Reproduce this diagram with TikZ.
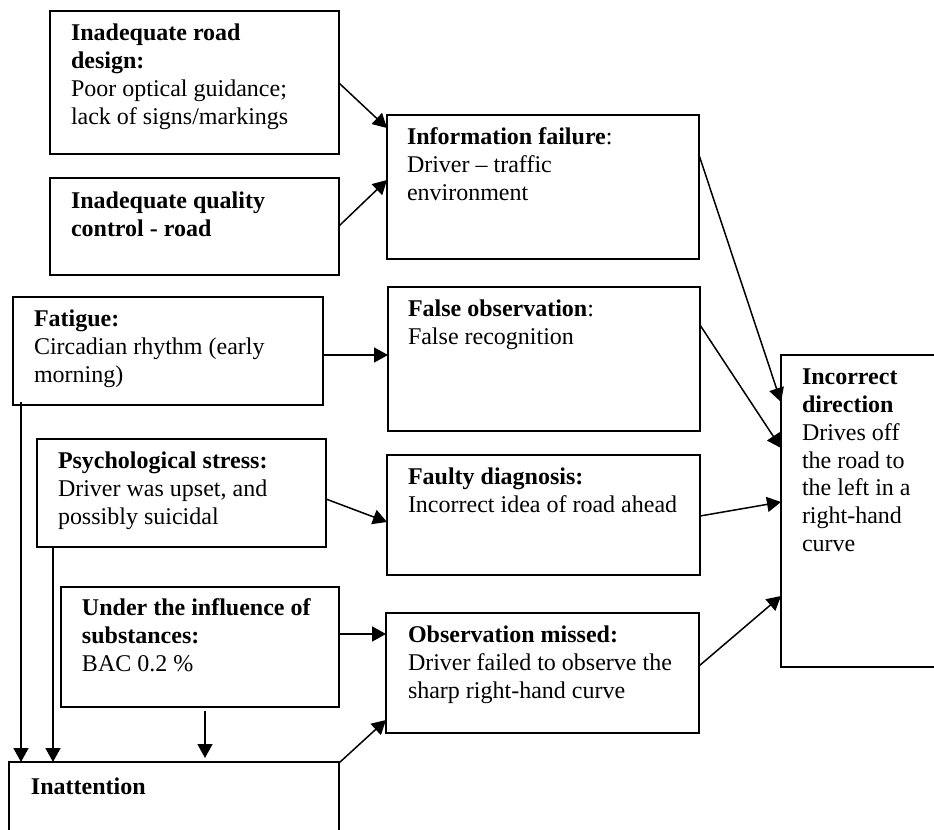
\documentclass[tikz,border=0pt]{standalone}
\usepackage{fontspec}
\setmainfont{Liberation Serif}
\usetikzlibrary{arrows.meta,calc}
\begin{document}
\begin{tikzpicture}[x=0.5pt,y=-0.5pt,
  box/.style={draw=black, line width=1pt, inner sep=0pt, outer sep=0pt, anchor=north west},
  txt/.style={anchor=north west, inner sep=0pt, outer sep=0pt, align=left,
    font=\fontsize{12pt}{13.9pt}\selectfont, execute at begin node=\rule{0pt}{10pt}},
  link/.style={line width=0.75pt, -{Triangle[length=7pt,width=7.5pt]}}]
\useasboundingbox (0,0) rectangle (934,830);
\clip (0,0) rectangle (934,830);
\fill[white] (0,0) rectangle (934,830);

% frames
\node[box, minimum width=144.5pt, minimum height=71.5pt] (rd)   at (50,11)  {};
\node[box, minimum width=144.5pt, minimum height=48.5pt] (qc)   at (50,178) {};
\node[box, minimum width=156pt,   minimum height=72pt]   (info) at (387,115) {};
\node[box, minimum width=155pt,   minimum height=54pt]   (fat)  at (13,297) {};
\node[box, minimum width=156pt,   minimum height=72pt]   (fobs) at (388,287) {};
\node[box, minimum width=144.5pt, minimum height=54pt]   (psy)  at (37,439) {};
\node[box, minimum width=156.5pt, minimum height=60pt]   (fdia) at (387,455) {};
\node[box, minimum width=139pt,   minimum height=60pt]   (sub)  at (61,587) {};
\node[box, minimum width=156.5pt, minimum height=60pt]   (omis) at (386,613) {};
\node[box, minimum width=79.5pt,  minimum height=156pt]  (inc)  at (781,355) {};
\node[box, minimum width=165pt,   minimum height=39pt]   (inat) at (9,762) {};

% texts
\node[txt] (trd)   at (71,24)   {\textbf{Inadequate road}\\\textbf{design:}\\Poor optical guidance;\\lack of signs/markings};
\node[txt] (tqc)   at (71,192)  {\textbf{Inadequate quality}\\\textbf{control - road}};
\node[txt] (tinfo) at (407,128) {\textbf{Information failure}:\\Driver – traffic\\environment};
\node[txt] (tfat)  at (34,310)  {\textbf{Fatigue:}\\Circadian rhythm (early\\morning)};
\node[txt] (tfobs) at (408,300) {\textbf{False observation}:\\False recognition};
\node[txt] (tpsy)  at (58,452)  {\textbf{Psychological stress:}\\Driver was upset, and\\possibly suicidal};
\node[txt] (tfdia) at (408,468) {\textbf{Faulty diagnosis:}\\Incorrect idea of road ahead};
\node[txt] (tsub)  at (82,599)  {\textbf{Under the influence of}\\\textbf{substances:}\\BAC 0.2 \%};
\node[txt] (tomis) at (408,626) {\textbf{Observation missed:}\\Driver failed to observe the\\sharp right-hand curve};
\node[txt] (tinat) at (31,774)  {\textbf{Inattention}};
\node[txt] (tinc)  at (802,369) {\textbf{Incorrect}\\\textbf{direction}\\Drives off\\the road to\\the left in a\\right-hand\\curve};

% causal links
\draw[link] ($(rd.north east)+(0,72)$)   -- ($(info.north west)+(0,13)$);
\draw[link] ($(qc.north east)+(0,48)$)   -- ($(info.north west)+(0,65)$);
\draw[link] ($(info.north east)+(0,40)$) -- ($(inc.north west)+(0,47)$);
\draw[link] ($(fobs.north east)+(0,38)$) -- ($(inc.north west)+(0,93)$);
\draw[link] ($(fat.north east)+(0,58)$)  -- ($(fobs.north west)+(0,68)$);
\draw[link] ($(psy.north east)+(0,60)$)  -- ($(fdia.north west)+(0,67)$);
\draw[link] ($(fdia.north east)+(0,61)$) -- ($(inc.north west)+(0,147)$);
\draw[link] ($(sub.north east)+(0,47)$)  -- ($(omis.north west)+(0,21)$);
\draw[link] ($(omis.north east)+(0,53)$) -- ($(inc.north west)+(0,241)$);
\draw[link] ($(inat.north east)+(0,1)$)  -- ($(omis.north west)+(0,107)$);
\draw[link] ($(fat.south west)+(8,-3)$)  -- ($(inat.north west)+(12,0)$);
\draw[link] ($(psy.south west)+(16,0)$)  -- ($(inat.north west)+(44,0)$);
\draw[link] ($(sub.south west)+(144,4)$) -- ($(inat.north west)+(196,-4)$);
\end{tikzpicture}
\end{document}
